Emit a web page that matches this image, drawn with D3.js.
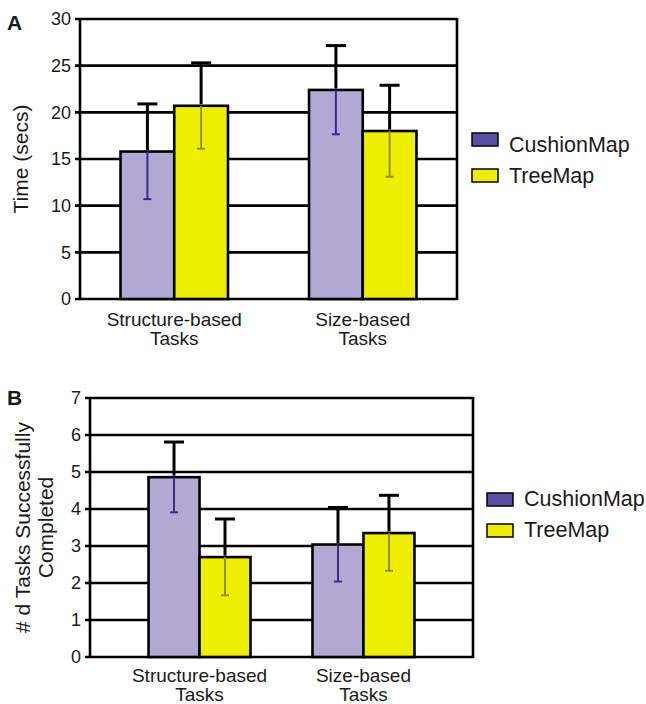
<!DOCTYPE html>
<html>
<head>
<meta charset="utf-8">
<script src="https://cdn.jsdelivr.net/npm/d3@7"></script>
<style>
  body { margin: 0; background: #fff; }
  text { font-family: "Liberation Sans", Arial, sans-serif; fill: #1a1a1a; }
</style>
</head>
<body>
<svg id="chart" width="646" height="704"></svg>
<script>
// data
const groupLines = [['Structure-based', 'Tasks'], ['Size-based', 'Tasks']]
const seriesNames = ['CushionMap', 'TreeMap']
const barColors = ['#b1a9d3', '#eeee00']
const legendColors = ['#5a50a6', '#eeee00']
const innerColors = ['#3b2c8c', '#8f8f2a']

// [group][series]
const timeMeans = [[15.8, 20.7], [22.4, 18.0]]
const timeErrs = [[5.1, 4.6], [4.75, 4.9]]
const timeTicks = [0, 5, 10, 15, 20, 25, 30]

const doneMeans = [[4.86, 2.7], [3.04, 3.35]]
const doneErrs = [[0.95, 1.03], [1.0, 1.02]]
const doneTicks = [0, 1, 2, 3, 4, 5, 6, 7]

const svg = d3.select('#chart')

function drawPanel(opt) {
  const g = svg.append('g')
  const y = d3.scaleLinear().domain([0, opt.ticks[opt.ticks.length - 1]]).range([opt.bottom, opt.top])
  const x0 = d3.scaleBand().domain(d3.range(groupLines.length)).range([opt.left, opt.right])
    .paddingInner(opt.padIn).paddingOuter(opt.padOut)
  const x1 = d3.scaleBand().domain(d3.range(seriesNames.length)).range([0, x0.bandwidth()])

  // gridlines
  g.append('g').selectAll('line').data(opt.ticks).join('line')
    .attr('x1', opt.left - 5).attr('x2', opt.right)
    .attr('y1', d => y(d)).attr('y2', d => y(d))
    .attr('stroke', '#000').attr('stroke-width', 2.6)

  // tick labels
  g.append('g').selectAll('text').data(opt.ticks).join('text')
    .attr('x', opt.left - 9).attr('y', d => y(d))
    .attr('dy', '0.36em').attr('text-anchor', 'end')
    .style('font-size', '18px').text(d => d)

  // frame
  g.append('line').attr('x1', opt.left).attr('x2', opt.left).attr('y1', opt.top).attr('y2', opt.bottom + 1)
    .attr('stroke', '#000').attr('stroke-width', 2.6)
  g.append('line').attr('x1', opt.right).attr('x2', opt.right).attr('y1', opt.top - 1).attr('y2', opt.bottom + 1)
    .attr('stroke', '#000').attr('stroke-width', 2.6)

  const rows = []
  opt.means.forEach((arr, gi) => arr.forEach((v, si) => rows.push({ gi, si, v, e: opt.errs[gi][si] })))

  // bars
  g.append('g').selectAll('rect').data(rows).join('rect')
    .attr('x', d => x0(d.gi) + x1(d.si))
    .attr('width', x1.bandwidth())
    .attr('y', d => y(d.v))
    .attr('height', d => y(0) - y(d.v))
    .attr('fill', d => barColors[d.si])
    .attr('stroke', '#000').attr('stroke-width', 2.6)

  // error bars: black above the bar, tinted inside it
  const eb = g.append('g').selectAll('g').data(rows).join('g')
    .attr('transform', d => `translate(${x0(d.gi) + x1(d.si) + x1.bandwidth() / 2},0)`)
  eb.append('line').attr('y1', d => y(d.v)).attr('y2', d => y(d.v - d.e))
    .attr('stroke', d => innerColors[d.si]).attr('stroke-width', 2)
  eb.append('line').attr('x1', -4).attr('x2', 4).attr('y1', d => y(d.v - d.e)).attr('y2', d => y(d.v - d.e))
    .attr('stroke', d => innerColors[d.si]).attr('stroke-width', 2)
  eb.append('line').attr('y1', d => y(d.v) - 1.5).attr('y2', d => y(d.v + d.e))
    .attr('stroke', '#000').attr('stroke-width', 3)
  eb.append('line').attr('x1', -10).attr('x2', 10).attr('y1', d => y(d.v + d.e)).attr('y2', d => y(d.v + d.e))
    .attr('stroke', '#000').attr('stroke-width', 3)

  // category labels
  const cl = g.append('g').selectAll('text').data(groupLines).join('text')
    .attr('text-anchor', 'middle').style('font-size', '19px')
    .attr('transform', (d, i) => `translate(${x0(i) + x0.bandwidth() / 2},${opt.bottom + opt.labelDy})`)
  cl.selectAll('tspan').data(d => d).join('tspan')
    .attr('x', 0).attr('dy', (d, i) => i ? 19 : 0).text(d => d)

  // y title
  const yt = g.append('text').attr('text-anchor', 'middle').style('font-size', '21px')
    .attr('transform', `translate(${opt.titleX},${(opt.top + opt.bottom) / 2}) rotate(-90)`)
  yt.selectAll('tspan').data(opt.title).join('tspan')
    .attr('x', 0).attr('dy', (d, i) => i ? 23 : 0).text(d => d)

  // panel letter
  g.append('text').attr('x', 7).attr('y', opt.letterY).style('font-size', '21px').style('font-weight', 'bold').text(opt.letter)

  // legend
  const lg = g.append('g').selectAll('g').data(seriesNames).join('g')
  lg.append('rect').attr('x', opt.legX).attr('y', (d, i) => opt.legY + i * opt.legGap)
    .attr('width', 26).attr('height', 13)
    .attr('fill', (d, i) => legendColors[i]).attr('stroke', '#000').attr('stroke-width', 1.5)
  lg.append('text').attr('x', opt.legX + 37).attr('y', (d, i) => opt.textY + i * opt.textGap)
    .style('font-size', '21.5px').text(d => d)
}

drawPanel({
  letter: 'A', letterY: 30, means: timeMeans, errs: timeErrs, ticks: timeTicks,
  left: 80, right: 457, top: 19, bottom: 299, padIn: 0.43, padOut: 0.215, labelDy: 27,
  title: ['Time (secs)'], titleX: 28,
  legX: 472, legY: 133, legGap: 36, textY: 152, textGap: 31
})

drawPanel({
  letter: 'B', letterY: 405, means: doneMeans, errs: doneErrs, ticks: doneTicks,
  left: 90, right: 473, top: 398, bottom: 657, padIn: 0.378, padOut: 0.357, labelDy: 25,
  title: ['# d Tasks Successfully', 'Completed'], titleX: 30,
  legX: 487, legY: 493, legGap: 31, textY: 506, textGap: 31
})
</script>
</body>
</html>
